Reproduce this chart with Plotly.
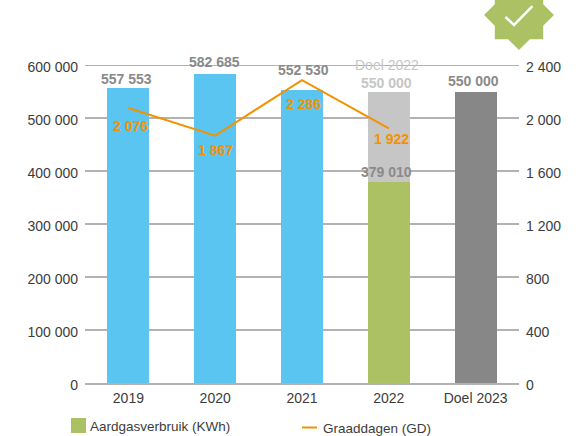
import plotly.graph_objects as go

categories = ["2019", "2020", "2021", "2022", "Doel 2023"]
gas_values = [557553, 582685, 552530, 379010, 550000]
gas_colors = ["#5BC5F2", "#5BC5F2", "#5BC5F2", "#ABC164", "#878787"]
target_2022_rest = [None, None, None, 170990, None]
degree_days = [2076, 1867, 2286, 1922, None]
left_ticks = [0, 100000, 200000, 300000, 400000, 500000, 600000]
left_labels = ["0", "100 000", "200 000", "300 000", "400 000", "500 000", "600 000"]
right_ticks = [0, 400, 800, 1200, 1600, 2000, 2400]
right_labels = ["0", "400", "800", "1 200", "1 600", "2 000", "2 400"]

W, H = 580, 436
L, R, T, B = 85, 61, 65, 53
FONT = "Liberation Sans"
TXT = "#3C3C3C"
GREY = "#8A8A8A"
LIGHT = "#C6C6C6"
ORANGE = "#F39200"
GREEN = "#ABC164"
GRID = "#B2B2B2"


def px(x):
    return (x - L) / (W - L - R)


def py(y):
    return (H - B - y) / (H - T - B)


fig = go.Figure()
fig.add_bar(x=categories, y=gas_values, marker=dict(color=gas_colors, line_width=0),
            width=0.484, name="Aardgasverbruik (KWh)", showlegend=False)
fig.add_bar(x=categories, y=target_2022_rest, marker=dict(color=LIGHT, line_width=0),
            width=0.484, name="Doel 2022", showlegend=False)
fig.add_scatter(x=categories, y=degree_days, yaxis="y2", mode="lines",
                line=dict(color=ORANGE, width=2), name="Graaddagen (GD)",
                showlegend=False, cliponaxis=False)

annots = []


def label(text, xi, yv, xs, ys, color, axis="y", size=14):
    annots.append(dict(text=text, x=xi, y=yv, xref="x", yref=axis,
                       xshift=xs, yshift=ys, showarrow=False,
                       font=dict(family=FONT, size=size, color=color)))


def b(text, xi, yv, xs, ys, color, axis="y"):
    label("<b>" + text + "</b>", xi, yv, xs, ys, color, axis)


b("557 553", 0, gas_values[0], -2, 9, GREY)
b("582 685", 1, gas_values[1], -1, 12, GREY)
b("552 530", 2, gas_values[2], 1, 20, GREY)
b("379 010", 3, gas_values[3], -2, 10, GREY)
b("550 000", 3, 550000, -2, 9, LIGHT)
b("550 000", 4, 550000, -2, 11, GREY)
label("Doel 2022", 3, 550000, -2, 27, LIGHT)
b("2 076", 0, degree_days[0], 2, -18, ORANGE, "y2")
b("1 867", 1, degree_days[1], 0, -14, ORANGE, "y2")
b("2 286", 2, degree_days[2], 1, -24, ORANGE, "y2")
b("1 922", 3, degree_days[3], 3, -11, ORANGE, "y2")

annots.append(dict(text="Aardgasverbruik (KWh)", x=px(88), y=py(426), xref="paper", yref="paper",
                   xanchor="left", yanchor="middle", showarrow=False,
                   font=dict(family=FONT, size=13.5, color=TXT)))
annots.append(dict(text="Graaddagen (GD)", x=px(321), y=py(428), xref="paper", yref="paper",
                   xanchor="left", yanchor="middle", showarrow=False,
                   font=dict(family=FONT, size=13.5, color=TXT)))

# legend swatches and check badge live in page space
cx, cy = 519, 15
sq, di = 24.2, 35
star = [(-di, 0), (-sq, -di + sq - 0), (-sq, -sq), (-di + sq, -sq), (0, -di), (di - sq, -sq), (sq, -sq),
        (sq, -di + sq), (di, 0), (sq, di - sq), (sq, sq), (di - sq, sq), (0, di), (-di + sq, sq),
        (-sq, sq), (-sq, di - sq)]


def path(points, close=True):
    s = "M " + " L ".join(f"{px(a):.4f},{py(c):.4f}" for a, c in points)
    return s + (" Z" if close else "")


shapes = [
    dict(type="line", xref="paper", yref="y", x0=0, x1=1, y0=left_ticks[-1], y1=left_ticks[-1],
         layer="below", line=dict(color=GRID, width=2)),
    dict(type="rect", xref="paper", yref="paper", x0=px(71), x1=px(86), y0=py(418), y1=py(433),
         fillcolor=GREEN, line_width=0),
    dict(type="line", xref="paper", yref="paper", x0=px(302), x1=px(317), y0=py(427.5), y1=py(427.5),
         line=dict(color=ORANGE, width=2)),
    dict(type="path", xref="paper", yref="paper", path=path([(cx + a, cy + c) for a, c in star]),
         fillcolor=GREEN, line_width=0),
    dict(type="path", xref="paper", yref="paper",
         path=path([(505.5, 17), (514, 25), (532.5, 6)], close=False),
         line=dict(color="white", width=2.5)),
]

fig.update_layout(
    width=W, height=H, autosize=False, barmode="stack", showlegend=False,
    margin=dict(l=L, r=R, t=T, b=B, pad=0),
    paper_bgcolor="white", plot_bgcolor="white",
    font=dict(family=FONT, size=14, color=TXT),
    xaxis=dict(type="category", categoryorder="array", categoryarray=categories, range=[-0.5, 4.5],
               autorange=False, showgrid=False, showline=True, linecolor=GRID, linewidth=2,
               layer="below traces", ticks="", ticklabelstandoff=1, tickfont=dict(size=14, color=TXT)),
    yaxis=dict(range=[0, 600000], tickvals=left_ticks, ticktext=left_labels, showgrid=True,
               gridcolor=GRID, gridwidth=2, zeroline=False, showline=False, ticks="",
               ticklabelstandoff=6, ticklabelshift=2, tickfont=dict(size=14, color=TXT)),
    yaxis2=dict(range=[0, 2400], tickvals=right_ticks, ticktext=right_labels, overlaying="y",
                side="right", showgrid=False, zeroline=False, showline=False, ticks="",
                ticklabelstandoff=6, ticklabelshift=2, tickfont=dict(size=14, color=TXT)),
    annotations=annots, shapes=shapes,
)

fig.write_html("out.html", config=dict(displayModeBar=False),
               post_script="document.body.style.margin='0';")
